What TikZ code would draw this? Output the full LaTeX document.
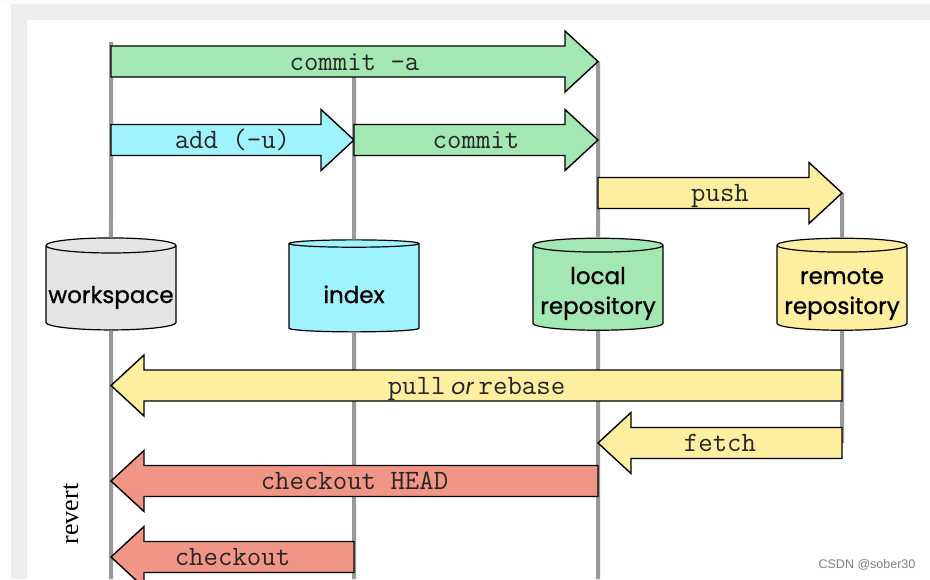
\documentclass[tikz,border=0pt]{standalone}
\usepackage{fontspec}
\newfontfamily\cylfont[FakeBold=1]{Poppins}
\newfontfamily\orfont{Poppins}
\newfontfamily\revfont{Liberation Serif}
\newfontfamily\markfont{Liberation Sans}
\usetikzlibrary{shapes.geometric,calc}

\definecolor{gitgreen}{HTML}{A3E8B2}
\definecolor{gitcyan}{HTML}{9FF3FC}
\definecolor{gityellow}{HTML}{FDEEA0}
\definecolor{gitsalmon}{HTML}{F19686}
\definecolor{gitgray}{HTML}{E5E5E5}
\definecolor{lanegray}{HTML}{999999}
\definecolor{framegray}{HTML}{EDEDED}

% block arrow: [style]{name}{tail}{tip}{label}
\newcommand{\blockarrow}[5][]{%
  \coordinate (tail) at (#3);
  \coordinate (tip) at (#4);
  \coordinate (neck) at ($(tip)!33pt!(tail)$);
  \draw[flow,#1] ($(tail)+(0,-15.5)$) -- ($(neck)+(0,-15.5)$) -- ($(neck)+(0,-30.5)$)
    -- (tip) -- ($(neck)+(0,30.5)$) -- ($(neck)+(0,15.5)$) -- ($(tail)+(0,15.5)$) -- cycle;
  \node[flowlabel] (#2) at ($(tail)!0.5!(tip)$) {#5};
}

\begin{document}
\begin{tikzpicture}[x=1pt, y=-1pt,
  store/.style={cylinder, shape border rotate=90, aspect=0.12, draw, line width=1.2pt,
    minimum width=130pt, minimum height=92pt, inner sep=0pt, align=center,
    font=\cylfont\fontsize{23}{30}\selectfont},
  oneline/.style={text height=30pt, text depth=0pt},
  twoline/.style={text height=52pt, text depth=0pt},
  lane/.style={lanegray, line width=4pt},
  flow/.style={draw=black, line width=1.4pt, line join=miter},
  flowlabel/.style={inner sep=0pt, text height=18pt, text depth=1pt, text=black!85,
    font=\ttfamily\fontsize{28}{28}\selectfont}]
\useasboundingbox (0,0) rectangle (930,579);
% frame of the screenshot
\fill[white!96!blue!40!white] (0,0) rectangle (930,579);
\fill[white] (0,4) rectangle (930,579);
\fill[framegray] (11,4) rectangle (930,579);
\fill[white] (27,20) rectangle (930,579);

% rows
\coordinate (lanetop) at (0,42);
\coordinate (lanebot) at (0,579);
\coordinate (r-commita) at (0,61.5);
\coordinate (r-add) at (0,140);
\coordinate (r-push) at (0,193);
\coordinate (r-pull) at (0,385.5);
\coordinate (r-fetch) at (0,443);
\coordinate (r-head) at (0,481);
\coordinate (r-checkout) at (0,557);

% stores
\node[store, oneline, fill=gitgray] (ws) at (111,288) {workspace};
\node[store, oneline, fill=gitcyan] (idx) at (354,288) {index};
\node[store, twoline, fill=gitgreen] (loc) at (598,288) {local\\repository};
\node[store, twoline, fill=gityellow] (rem) at (842,288) {remote\\repository};

% lanes
\draw[lane] (ws |- lanetop) -- (ws.north) (ws.south) -- (ws |- lanebot);
\draw[lane] (idx |- r-commita) -- (idx.north) (idx.south) -- (idx |- lanebot);
\draw[lane] (loc |- r-commita) -- (loc.north) (loc.south) -- (loc |- lanebot);
\draw[lane] (rem |- r-push) -- (rem.north) (rem.south) -- (rem |- r-fetch);

% commands
\blockarrow[fill=gitgreen]{commita}{ws |- r-commita}{loc |- r-commita}{commit -a}
\blockarrow[fill=gitcyan]{add}{ws |- r-add}{idx |- r-add}{add (-u)}
\blockarrow[fill=gitgreen]{commit}{idx |- r-add}{loc |- r-add}{commit}
\blockarrow[fill=gityellow]{push}{loc |- r-push}{rem |- r-push}{push}
\blockarrow[fill=gityellow]{pull}{rem |- r-pull}{ws |- r-pull}{pull\hspace{6pt}{\orfont\itshape\fontsize{22}{22}\selectfont or}\hspace{5pt}rebase}
\blockarrow[fill=gityellow]{fetch}{rem |- r-fetch}{loc |- r-fetch}{fetch}
\blockarrow[fill=gitsalmon]{head}{loc |- r-head}{ws |- r-head}{checkout HEAD}
\blockarrow[fill=gitsalmon]{checkout}{idx |- r-checkout}{ws |- r-checkout}{checkout}

\node[rotate=90, font=\revfont\fontsize{26}{26}\selectfont] (revert) at (71,514) {revert};
\node[font=\markfont\fontsize{12.5}{13}\selectfont, text=black!50] (mark) at (867,565) {CSDN @sober30};
\end{tikzpicture}
\end{document}
